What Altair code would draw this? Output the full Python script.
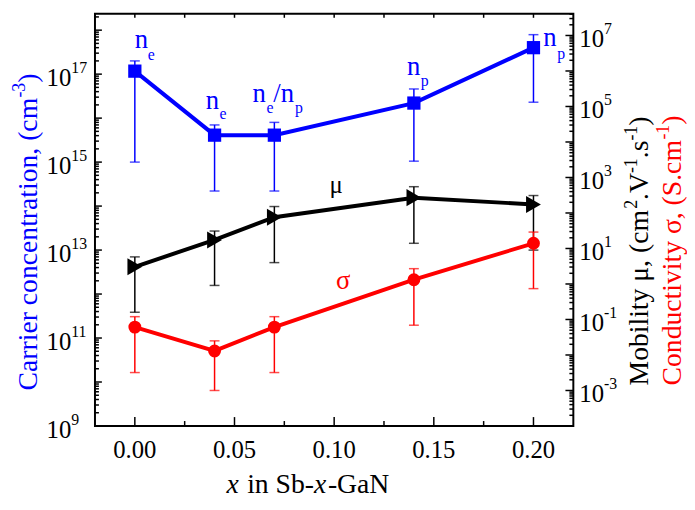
import altair as alt
import pandas as pd

# ---------------- data ----------------
x_frac = [0.00, 0.04, 0.07, 0.14, 0.20]

carrier = [1.17e17, 4.1e15, 4.1e15, 2.2e16, 4.0e17]
carrier_hi = [2.0e17, 7.0e15, 8.0e15, 4.6e16, 7.9e17]
carrier_lo = [1.0e15, 2.2e14, 2.2e14, 1.05e15, 2.3e16]

mobility = [3.05, 17.4, 76.0, 270.0, 174.0]
mobility_hi = [5.8, 31.0, 152.0, 550.0, 310.0]
mobility_lo = [0.16, 0.91, 4.0, 14.0, 9.0]

conduct = [0.061, 0.013, 0.061, 1.32, 14.0]
conduct_hi = [0.12, 0.025, 0.12, 2.7, 29.0]
conduct_lo = [0.0032, 0.001, 0.0032, 0.069, 0.74]

carrier_sub = ["e", "e", "e", "p", "p"]

left_label_exps = [9, 11, 13, 15, 17]
right_label_exps = [-3, -1, 1, 3, 5, 7]
x_tick_labels = [0.00, 0.05, 0.10, 0.15, 0.20]
x_ticks = [0.0, 0.025, 0.05, 0.075, 0.10, 0.125, 0.15, 0.175, 0.20]

mu_label = {"x": 0.101, "y": 370.0, "t": "μ"}
sigma_label = {"x": 0.1045, "y": 0.70, "t": "σ"}

# ---------------- styling ----------------
BLUE = "#0000ff"
RED = "#ff0000"
BLACK = "#000000"
FONT = "Liberation Serif"
W, H = 484, 417

# approximate advance widths (em) of the Times-metric serif font, for composing super/subscripts
ADV = {" ": .25, ",": .25, ".": .25, "(": .333, ")": .333, "-": .333, "/": .278,
       "C": .667, "M": .889, "S": .556, "V": .722, "G": .722, "N": .722,
       "a": .444, "b": .5, "c": .444, "d": .5, "e": .444, "i": .278, "l": .278,
       "m": .778, "n": .5, "o": .5, "r": .333, "s": .389, "t": .278, "u": .5,
       "v": .5, "x": .5, "y": .5, "μ": .576, "σ": .55}


def text_width(t, size):
    return sum(ADV.get(ch, .5) for ch in t) * size


xs = alt.Scale(domain=[-0.02, 0.22], nice=False, zero=False)
yL = alt.Scale(type="log", domain=[1e9, 2.35e18], nice=False)
yR = alt.Scale(type="log", domain=[1e-4, 4.07e7], nice=False)

df = pd.DataFrame({
    "x": x_frac,
    "n": carrier, "n_hi": carrier_hi, "n_lo": carrier_lo,
    "mu": mobility, "mu_hi": mobility_hi, "mu_lo": mobility_lo,
    "s": conduct, "s_hi": conduct_hi, "s_lo": conduct_lo,
})

X = alt.X("x:Q", scale=xs, axis=None)


def Y(col, scale):
    return alt.Y(f"{col}:Q", scale=scale, axis=None)


def series(col, color, shape, size, scale):
    base = alt.Chart(df)
    line = base.mark_line(color=color, strokeWidth=4).encode(x=X, y=Y(col, scale))
    err = base.mark_rule(color=color, strokeWidth=1.5).encode(
        x=X, y=Y(col + "_lo", scale), y2=f"{col}_hi:Q")
    cap_hi = base.mark_tick(color=color, orient="horizontal", size=10, thickness=1.5).encode(
        x=X, y=Y(col + "_hi", scale))
    cap_lo = base.mark_tick(color=color, orient="horizontal", size=10, thickness=1.5).encode(
        x=X, y=Y(col + "_lo", scale))
    pts = base.mark_point(shape=shape, filled=True, size=size, color=color, opacity=1).encode(
        x=X, y=Y(col, scale))
    return [line, err, cap_hi, cap_lo, pts]


def piece(i, text, dx, dy, size, color=BLUE):
    d = pd.DataFrame({"x": [x_frac[i]], "y": [carrier[i]], "t": [text]})
    return alt.Chart(d).mark_text(
        font=FONT, fontSize=size, color=color, align="left", baseline="alphabetic",
        dx=dx, dy=dy).encode(x=X, y=Y("y", yL), text="t:N")


# carrier type labels
labels = []
offs = {0: (0, -23, 13, -11), 1: (-9, -26, 5, -16), 3: (-7, -28, 7, -17), 4: (10, -2, 24, 11)}
for i, (ndx, ndy, sdx, sdy) in offs.items():
    labels.append(piece(i, "n", ndx, ndy, 27))
    labels.append(piece(i, carrier_sub[i], sdx, sdy, 16))
labels.append(piece(2, "n", -22, -34, 27))
labels.append(piece(2, "e", -8, -22, 16))
labels.append(piece(2, "/n", -1, -34, 27))
labels.append(piece(2, "p", 21, -22, 16))

# ---------- axis ticks (drawn inward) ----------
left_major = [10.0 ** e for e in range(9, 19)]
left_minor = [k * 10.0 ** e for e in range(9, 19) for k in range(2, 10) if k * 10.0 ** e <= 2.35e18]
right_major = [10.0 ** e for e in range(-4, 8)]
right_minor = [k * 10.0 ** e for e in range(-4, 8) for k in range(2, 10) if k * 10.0 ** e <= 4.07e7]


def yticks(vals, scale, x0, x1):
    return alt.Chart(pd.DataFrame({"v": vals})).mark_rule(color=BLACK, strokeWidth=1.5).encode(
        y=Y("v", scale), x=alt.value(x0), x2=alt.value(x1))


def ytick_labels(exps, scale, anchor):
    d = pd.DataFrame({"v": [10.0 ** e for e in exps], "e": [str(e) for e in exps]})
    base = alt.Chart(d)
    ten = base.mark_text(font=FONT, fontSize=25, align="right", baseline="alphabetic", dy=12,
                         text="10", color=BLACK).encode(y=Y("v", scale), x=alt.value(anchor))
    ex = base.mark_text(font=FONT, fontSize=16, align="left", baseline="alphabetic", dy=-1,
                        color=BLACK).encode(y=Y("v", scale), x=alt.value(anchor), text="e:N")
    return [ten, ex]


xt = pd.DataFrame({"v": x_ticks, "major": [round(v / 0.05, 6) % 1 == 0 for v in x_ticks]})
xt_major = xt[xt["major"]]
xt_minor = xt[~xt["major"]]


def xticks(d, y0, y1):
    return alt.Chart(d).mark_rule(color=BLACK, strokeWidth=1.5).encode(
        x=alt.X("v:Q", scale=xs, axis=None), y=alt.value(y0), y2=alt.value(y1))


xlab = alt.Chart(pd.DataFrame({"v": x_tick_labels})).mark_text(
    font=FONT, fontSize=25, align="center", baseline="alphabetic", color=BLACK).encode(
    x=alt.X("v:Q", scale=xs, axis=None), y=alt.value(449), text=alt.Text("v:Q", format=".2f"))


def ptext(text, x, y, size, color=BLACK, style="normal", angle=0):
    return alt.Chart(pd.DataFrame({"t": [text]})).mark_text(
        font=FONT, fontSize=size, color=color, fontStyle=style, angle=angle, align="left",
        baseline="alphabetic").encode(x=alt.value(x), y=alt.value(y), text="t:N")


def compose(parts, x0, y0, vertical=False):
    """parts: (text, size, raise, color, style); laid out left-to-right (or bottom-to-top)."""
    out, pos = [], 0.0
    for text, size, rise, color, style in parts:
        lead = len(text) - len(text.lstrip(" "))
        pos += lead * ADV[" "] * size
        body = text.strip(" ")
        if vertical:
            out.append(ptext(body, x0 - rise, y0 - pos, size, color, style, angle=270))
        else:
            out.append(ptext(body, x0 + pos, y0 - rise, size, color, style))
        pos += text_width(text.lstrip(" "), size)
    return out


TS, SS, RISE = 28, 18, 12
titles = (
    compose([("x", TS, 0, BLACK, "italic"), (" in Sb-", TS, 0, BLACK, "normal"),
             ("x", TS, 0, BLACK, "italic"), ("-GaN", TS, 0, BLACK, "normal")], 133, 485)
    + compose([("Carrier concentration, (cm", TS, 0, BLUE, "normal"), ("-3", SS, RISE, BLUE, "normal"),
               (")", TS, 0, BLUE, "normal")], -59, 381, vertical=True)
    + compose([("Mobility μ, (cm", TS, 0, BLACK, "normal"), ("2", SS, RISE, BLACK, "normal"),
               (".V", TS, 0, BLACK, "normal"), ("-1", SS, RISE, BLACK, "normal"),
               (".s", TS, 0, BLACK, "normal"), ("-1", SS, RISE, BLACK, "normal"),
               (")", TS, 0, BLACK, "normal")], 560, 376, vertical=True)
    + compose([("Conductivity σ, (S.cm", TS, 0, RED, "normal"), ("-1", SS, RISE, RED, "normal"),
               (")", TS, 0, RED, "normal")], 593, 376, vertical=True)
)

left = alt.layer(
    *series("n", BLUE, "square", 180, yL),
    *labels,
    yticks(left_major, yL, 0, 7),
    yticks(left_minor, yL, 0, 4),
    *ytick_labels(left_label_exps, yL, -24),
    xticks(xt_major, H, H - 9),
    xticks(xt_minor, H, H - 5),
    xticks(xt, 0, 4),
    xlab,
    *titles,
)

mu_txt = alt.Chart(pd.DataFrame([mu_label])).mark_text(
    font=FONT, fontSize=25, color=BLACK, align="center", baseline="alphabetic").encode(
    x=X, y=Y("y", yR), text="t:N")
sig_txt = alt.Chart(pd.DataFrame([sigma_label])).mark_text(
    font=FONT, fontSize=27, color=RED, align="center", baseline="alphabetic").encode(
    x=X, y=Y("y", yR), text="t:N")

right = alt.layer(
    *series("mu", BLACK, "triangle-right", 300, yR),
    *series("s", RED, "circle", 170, yR),
    mu_txt, sig_txt,
    yticks(right_major, yR, W, W - 8),
    yticks(right_minor, yR, W, W - 4),
    *ytick_labels(right_label_exps, yR, 515),
)

chart = alt.layer(left, right).resolve_scale(y="independent").properties(
    width=W, height=H,
    padding={"left": 88, "top": 3, "right": 115, "bottom": 74},
    autosize=alt.AutoSizeParams(type="none"),
).configure_view(stroke=BLACK, strokeWidth=2)

chart.save("out.html", embed_options={"renderer": "svg", "actions": False})
